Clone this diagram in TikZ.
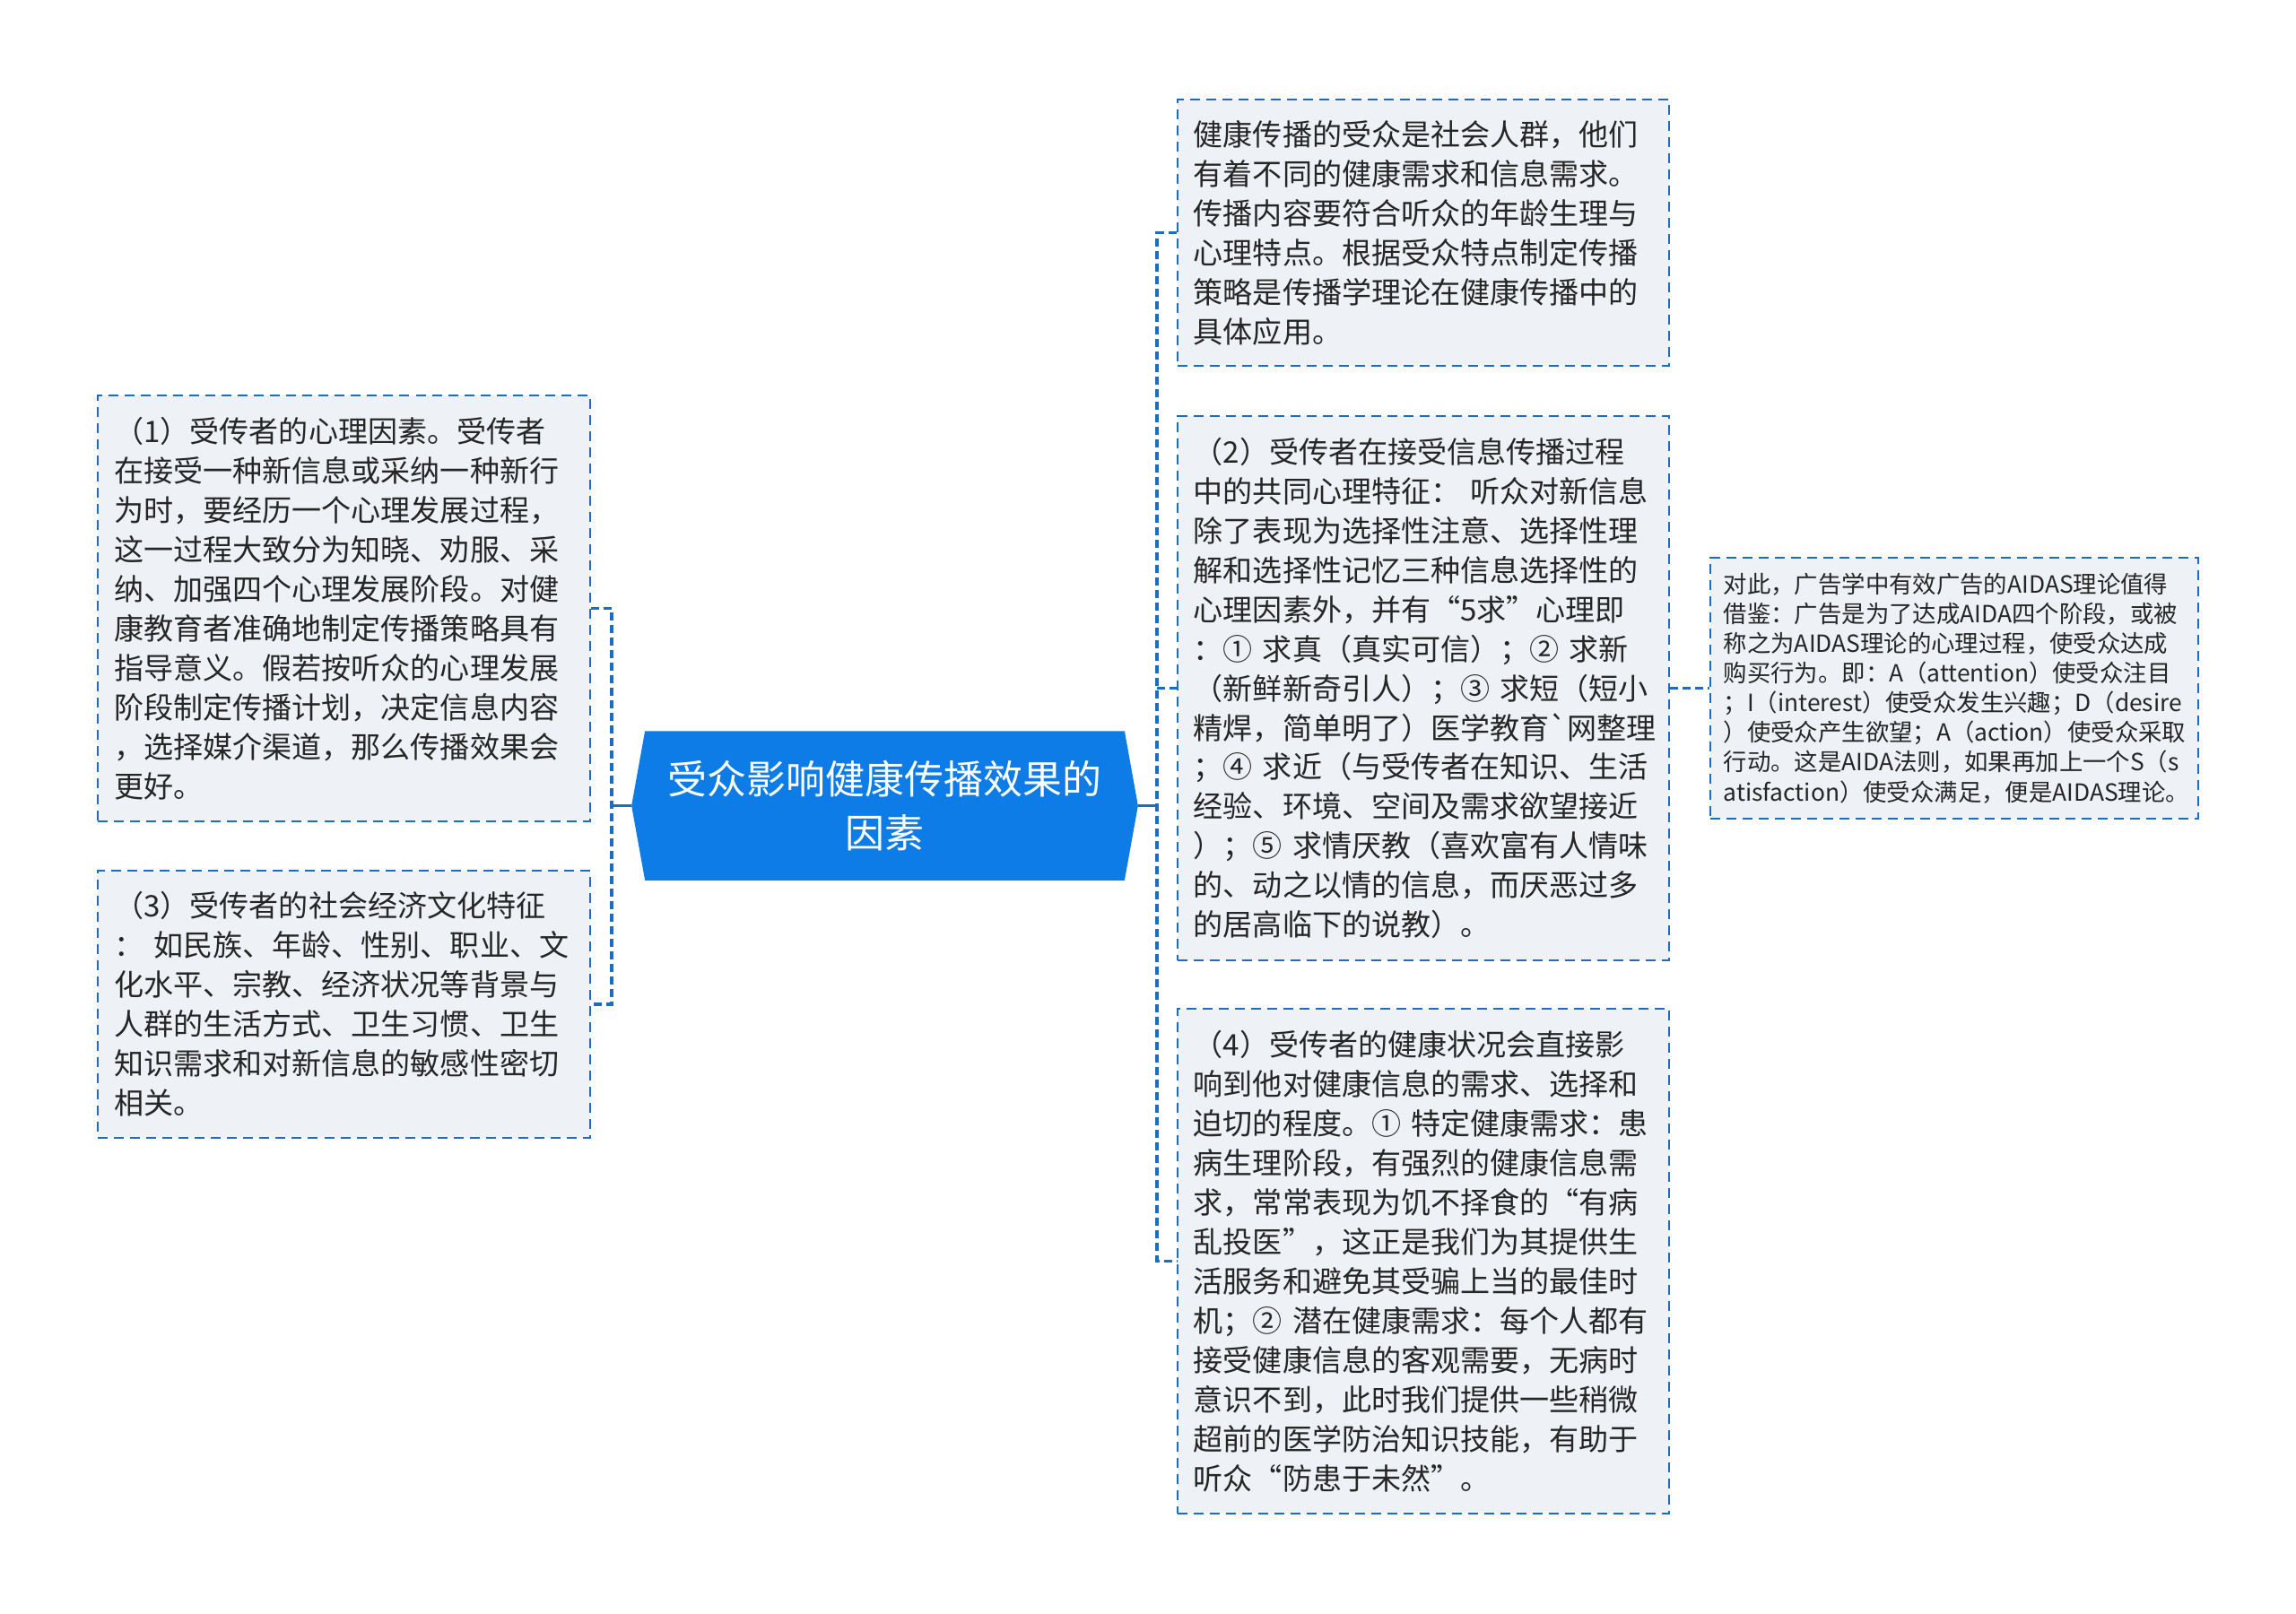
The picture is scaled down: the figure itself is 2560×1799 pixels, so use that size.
\documentclass[tikz,border=0pt]{standalone}
\usepackage{fontspec}
\newfontfamily\cjk{Noto Sans CJK SC}
\usepackage{tikz}
\usetikzlibrary{positioning}
\usetikzlibrary{calc}
\usetikzlibrary{backgrounds}
\definecolor{rootblue}{RGB}{14,124,230}
\definecolor{linkblue}{RGB}{30,108,192}
\definecolor{boxfill}{RGB}{238,241,245}
\definecolor{txtgray}{RGB}{38,38,38}

\begin{document}
\begin{tikzpicture}[x=0.01cm,y=-0.01cm,
  leaf/.style={rectangle, draw=linkblue, line width=0.55pt,
    dash pattern=on 0.11cm off 0.07cm, fill=boxfill,
    text width=5.12cm, inner xsep=0.18cm, inner ysep=0pt,
    align=left, text=txtgray,
    font=\cjk\fontsize{9.4pt}{12.5pt}\selectfont},
  smallleaf/.style={leaf, text width=5.14cm, inner xsep=0.15cm,
    font=\cjk\fontsize{7.5pt}{9.4pt}\selectfont},
  root/.style={rectangle, minimum width=5.63cm, minimum height=1.65cm,
    inner sep=0pt, align=center, text=white,
    font=\cjk\fontsize{12.5pt}{16.8pt}\selectfont},
  bus/.style={linkblue, line width=1pt, dash pattern=on 0.09cm off 0.05cm},
  trunk/.style={linkblue, line width=1pt}]

\useasboundingbox (0,0) rectangle (2560,1799);

% centre
\node[root] (root) at (986.5,898.5) {受众影响健康传播效果的\\因素};
\begin{scope}[on background layer]
\fill[rootblue] ($(root.north west)+(15,0)$) -- ($(root.north east)+(-15,0)$) -- (root.east)
  -- ($(root.south east)+(-15,0)$) -- ($(root.south west)+(15,0)$) -- (root.west) -- cycle;
\end{scope}

% left side
\node[leaf, minimum height=4.75cm] (l1) at (383.5,678.5) {%
（1）受传者的心理因素。受传者\\
在接受一种新信息或采纳一种新行\\
为时，要经历一个心理发展过程，\\
这一过程大致分为知晓、劝服、采\\
纳、加强四个心理发展阶段。对健\\
康教育者准确地制定传播策略具有\\
指导意义。假若按听众的心理发展\\
阶段制定传播计划，决定信息内容\\
，选择媒介渠道，那么传播效果会\\
更好。};

\node[leaf, minimum height=2.98cm] (l3) at (383.5,1120) {%
（3）受传者的社会经济文化特征\\
： 如民族、年龄、性别、职业、文\\
化水平、宗教、经济状况等背景与\\
人群的生活方式、卫生习惯、卫生\\
知识需求和对新信息的敏感性密切\\
相关。};

% right side
\node[leaf, minimum height=2.97cm] (r0) at (1587,259.5) {%
健康传播的受众是社会人群，他们\\
有着不同的健康需求和信息需求。\\
传播内容要符合听众的年龄生理与\\
心理特点。根据受众特点制定传播\\
策略是传播学理论在健康传播中的\\
具体应用。};

\node[leaf, minimum height=6.07cm] (r2) at (1587,767.5) {%
（2）受传者在接受信息传播过程\\
中的共同心理特征： 听众对新信息\\
除了表现为选择性注意、选择性理\\
解和选择性记忆三种信息选择性的\\
心理因素外，并有“5求”心理即\\
：① 求真（真实可信）；② 求新\\
（新鲜新奇引人）；③ 求短（短小\\
精焊，简单明了）医学教育`网整理\\
；④ 求近（与受传者在知识、生活\\
经验、环境、空间及需求欲望接近\\
）；⑤ 求情厌教（喜欢富有人情味\\
的、动之以情的信息，而厌恶过多\\
的居高临下的说教）。};

\node[leaf, minimum height=5.63cm] (r4) at (1587,1406.5) {%
（4）受传者的健康状况会直接影\\
响到他对健康信息的需求、选择和\\
迫切的程度。① 特定健康需求：患\\
病生理阶段，有强烈的健康信息需\\
求，常常表现为饥不择食的“有病\\
乱投医”，这正是我们为其提供生\\
活服务和避免其受骗上当的最佳时\\
机；② 潜在健康需求：每个人都有\\
接受健康信息的客观需要，无病时\\
意识不到，此时我们提供一些稍微\\
超前的医学防治知识技能，有助于\\
听众“防患于未然”。};

\node[smallleaf, minimum height=2.91cm] (aidas) at (2179,767.5) {%
对此，广告学中有效广告的AIDAS理论值得\\
借鉴：广告是为了达成AIDA四个阶段，或被\\
称之为AIDAS理论的心理过程，使受众达成\\
购买行为。即：A（attention）使受众注目\\
；I（interest）使受众发生兴趣；D（desire\\
）使受众产生欲望；A（action）使受众采取\\
行动。这是AIDA法则，如果再加上一个S（s\\
atisfaction）使受众满足，便是AIDAS理论。};

% connectors
\coordinate (lbus) at (682,898.5);
\coordinate (rbus) at (1290,898.5);

\draw[trunk] (root.west) -- (lbus);
\draw[bus] (l1.east) -| (lbus) |- (l3.east);

\draw[trunk] (root.east) -- (rbus);
\draw[bus] (r0.west) -| (rbus) |- (r4.west);
\draw[bus] (rbus |- r2.west) -- (r2.west);

\draw[bus] (r2.east) -- (aidas.west);

\end{tikzpicture}
\end{document}
